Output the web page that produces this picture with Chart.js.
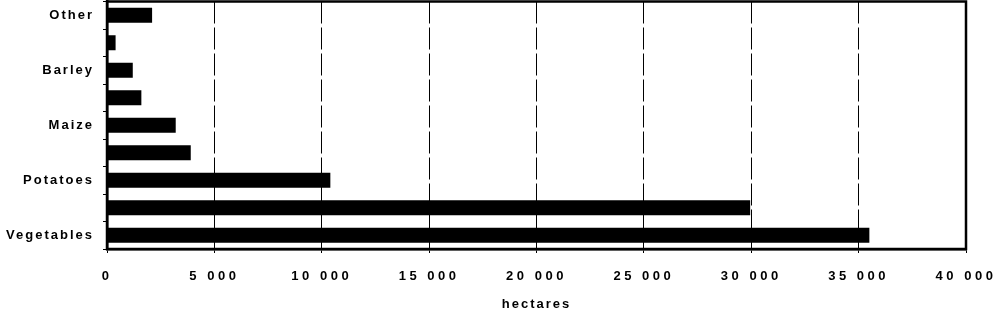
<!DOCTYPE html>
<html>
<head>
<meta charset="utf-8">
<script src="https://cdn.jsdelivr.net/npm/chart.js@4/dist/chart.umd.min.js"></script>
<style>
  html, body { margin: 0; padding: 0; background: #fff; }
  #wrap { width: 1003px; height: 311px; position: relative; }
</style>
</head>
<body>
<div id="wrap"><canvas id="c"></canvas></div>
<script>
// Categories top to bottom (unlabelled rows in the original are left blank)
const categories = ['Other', '', 'Barley', '', 'Maize', '', 'Potatoes', '', 'Vegetables'];
// Area in hectares
const hectares = [2100, 400, 1200, 1600, 3200, 3900, 10400, 29950, 35500];
// X-axis tick values
const xTicks = [0, 5000, 10000, 15000, 20000, 25000, 30000, 35000, 40000];
const xTitle = 'hectares';

function fmt(v) {
  return String(v).replace(/\B(?=(\d{3})+(?!\d))/g, ' ');
}

Chart.defaults.font.family = '"Liberation Sans", Arial, Helvetica, sans-serif';
Chart.defaults.font.size = 13;
Chart.defaults.font.weight = 'bold';
Chart.defaults.color = '#000';

const BASE_SPACING = '2px';
const spacingPlugin = {
  id: 'spacing',
  beforeUpdate(chart) { chart.ctx.letterSpacing = BASE_SPACING; },
  beforeLayout(chart) { chart.ctx.letterSpacing = BASE_SPACING; },
  beforeDraw(chart) { chart.ctx.letterSpacing = BASE_SPACING; }
};

const framePlugin = {
  id: 'frame',
  afterDatasetsDraw(chart) {
    const a = chart.chartArea, ctx = chart.ctx;
    ctx.save();
    ctx.setLineDash([]);
    ctx.strokeStyle = '#000';
    ctx.lineWidth = 2.5;
    ctx.strokeRect(a.left, a.top, a.right - a.left, a.bottom - a.top);
    ctx.restore();
  }
};

function patchSpacing(scale, spacing) {
  if (scale._spacingPatched) return;
  scale._spacingPatched = true;
  const orig = scale.drawLabels;
  scale.drawLabels = function (area) {
    const c = this.ctx;
    const prev = c.letterSpacing;
    c.letterSpacing = spacing;
    orig.call(this, area);
    c.letterSpacing = prev;
  };
}

new Chart(document.getElementById('c'), {
  type: 'bar',
  data: {
    labels: categories,
    datasets: [{
      data: hectares,
      backgroundColor: '#000',
      borderWidth: 0,
      barPercentage: 0.54,
      categoryPercentage: 1.0
    }]
  },
  options: {
    indexAxis: 'y',
    responsive: true,
    maintainAspectRatio: false,
    animation: false,
    layout: { padding: { top: 1.5, right: 37, bottom: 0, left: 0 } },
    plugins: {
      legend: { display: false },
      tooltip: { enabled: false },
      title: { display: false }
    },
    scales: {
      x: {
        type: 'linear',
        position: 'bottom',
        min: 0,
        max: 40000,
        afterBuildTicks(scale) { scale.ticks = xTicks.map(v => ({ value: v })); },
        ticks: {
          callback: (v) => fmt(v),
          padding: 16,
          maxRotation: 0,
          autoSkip: false
        },
        grid: {
          color: '#000',
          lineWidth: 1,
          tickLength: 4,
          drawTicks: true
        },
        border: { display: true, color: '#000', width: 2.5, dash: [22, 4] },
        title: {
          display: true,
          text: xTitle,
          font: { size: 13, weight: 'bold' },
          padding: { top: 13, bottom: -1.5 }
        },
        afterFit(scale) {
          scale.height = 62;
          scale.paddingLeft = 0;
          scale.paddingRight = 0;
          patchSpacing(scale, '3.5px');
        }
      },
      y: {
        type: 'category',
        position: 'left',
        offset: true,
        ticks: {
          autoSkip: false,
          padding: 9,
          callback: (v, i) => categories[i]
        },
        grid: {
          offset: true,
          drawOnChartArea: false,
          drawTicks: true,
          tickLength: 4,
          color: '#000',
          lineWidth: 1
        },
        border: { display: true, color: '#000', width: 2.5 },
        afterFit(scale) {
          scale.width = 107;
          scale.paddingTop = 0;
          scale.paddingBottom = 0;
        }
      }
    }
  },
  plugins: [spacingPlugin, framePlugin]
});
</script>
</body>
</html>
